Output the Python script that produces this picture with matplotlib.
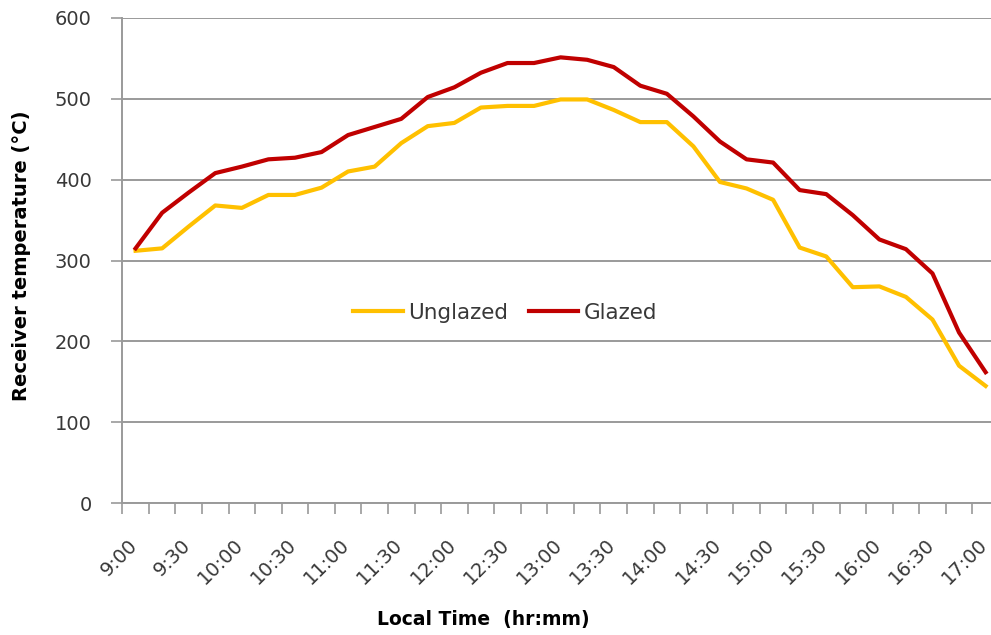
import numpy as np
import matplotlib
matplotlib.use("Agg")
import matplotlib.pyplot as plt
import matplotlib.transforms as mtransforms
from matplotlib.ticker import FixedLocator

plt.rcParams['font.family'] = ['DejaVu Sans']

# 15-minute readings from 9:00 to 17:00
times = ["9:00", "9:15", "9:30", "9:45", "10:00", "10:15", "10:30", "10:45",
         "11:00", "11:15", "11:30", "11:45", "12:00", "12:15", "12:30", "12:45",
         "13:00", "13:15", "13:30", "13:45", "14:00", "14:15", "14:30", "14:45",
         "15:00", "15:15", "15:30", "15:45", "16:00", "16:15", "16:30", "16:45",
         "17:00"]

unglazed = [312, 315, 342, 368, 365, 381, 381, 390, 410, 416, 445, 466,
            470, 489, 491, 491, 499, 499, 486, 471, 471, 441, 397, 389,
            375, 316, 305, 267, 268, 255, 227, 170, 145]

glazed = [315, 359, 384, 408, 416, 425, 427, 434, 455, 465, 475, 502,
          514, 532, 544, 544, 551, 548, 539, 516, 506, 478, 447, 425,
          421, 387, 382, 356, 326, 314, 284, 211, 162]

yticks = [0, 100, 200, 300, 400, 500, 600]

grey = '#9a9a9a'
text_col = '#383838'

fig = plt.figure(figsize=(9.91, 6.35), dpi=100)
# plot area runs a little past the right edge of the picture
ax = fig.add_axes([122.3 / 991, 1 - 503.3 / 635, (998.9 - 122.3) / 991, (503.3 - 17.7) / 635])

x = np.arange(len(times))
ax.plot(x, unglazed, color='#FFC000', lw=3.0, label='Unglazed', solid_joinstyle='round')
ax.plot(x, glazed, color='#C00000', lw=3.0, label='Glazed', solid_joinstyle='round')

ax.set_xlim(-0.5, len(times) - 0.5)
ax.set_ylim(0, 600)

ax.set_yticks(yticks)
ax.yaxis.grid(True, color=grey, lw=1.4)
ax.set_axisbelow(True)
ax.tick_params(axis='y', direction='out', length=8, width=1.2, color=grey,
               labelsize=14, labelcolor=text_col, pad=14)

# labels every 30 min, tick marks between categories
ax.set_xticks(x[::2])
ax.set_xticklabels(times[::2], rotation=45, ha='right', rotation_mode='anchor')
ax.xaxis.set_minor_locator(FixedLocator(np.arange(-0.5, len(times), 1.0)))
ax.tick_params(axis='x', which='major', length=0, labelsize=14, labelcolor=text_col, pad=23)
ax.tick_params(axis='x', which='minor', direction='out', length=8, width=1.2, color=grey)
shift = mtransforms.ScaledTranslation(-8 / 100, 0, fig.dpi_scale_trans)
for lab in ax.get_xticklabels():
    lab.set_transform(lab.get_transform() + shift)

for s in ['top', 'right']:
    ax.spines[s].set_visible(False)
for s in ['left', 'bottom']:
    ax.spines[s].set_color(grey)
    ax.spines[s].set_linewidth(1.4)

ax.set_ylabel('Receiver temperature (°C)', fontsize=14, fontweight='bold')
ax.yaxis.set_label_coords((22 - 122.3) / (998.9 - 122.3), 0.51)
ax.set_xlabel('Local Time  (hr:mm)', fontsize=13.5, fontweight='bold')
ax.xaxis.set_label_coords((483 - 122.3) / (998.9 - 122.3), -(620 - 503.3) / (503.3 - 17.7))
ax.xaxis.label.set_va('center')
ax.yaxis.label.set_va('center')

ax.legend(loc='center', bbox_to_anchor=(0.437, 0.392), ncol=2, frameon=False,
          fontsize=15.5, handlelength=2.3, handletextpad=0.28, columnspacing=0.93,
          labelcolor=text_col)

fig.savefig('out.png', dpi=100)
